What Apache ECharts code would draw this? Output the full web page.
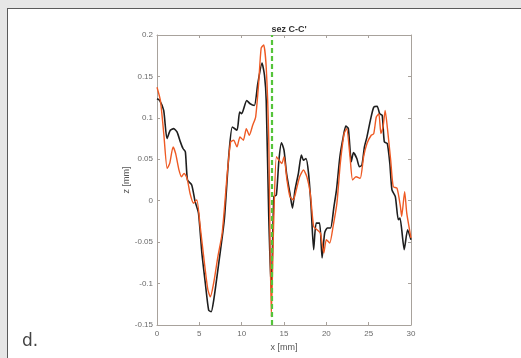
<!DOCTYPE html>
<html><head><meta charset="utf-8">
<script src="https://cdn.jsdelivr.net/npm/echarts@6/dist/echarts.min.js"></script>
<style>
html,body{margin:0;padding:0;background:#e6e6e6;}
#frame{position:absolute;left:7px;top:8px;width:520px;height:360px;background:#fff;border:1px solid #5a5a5a;box-sizing:border-box;}
#c{position:absolute;left:0;top:0;width:521px;height:358px;}
</style></head>
<body>
<div id="frame"></div>
<div id="c"></div>
<script>
const title = "sez C-C'";
const xTicks = [0, 5, 10, 15, 20, 25, 30];
const yTicks = [-0.15, -0.1, -0.05, 0, 0.05, 0.1, 0.15, 0.2];
const sectionX = 13.5;
const blackX = [0,0.31,0.79,1.18,1.57,1.97,2.36,2.76,3.07,3.35,3.6,4.1,4.5,4.9,5.3,5.7,6.1,6.4,6.7,7.3,7.95,8.5,8.9,9.45,9.76,10.0,10.6,11.0,11.5,11.9,12.4,12.7,12.9,13.2,13.5,13.8,14.1,14.4,14.7,15.0,15.3,15.7,16.0,16.3,16.7,17.05,17.3,17.6,17.9,18.2,18.5,18.8,19.2,19.5,19.8,20.1,20.5,20.9,21.2,21.6,22.0,22.3,22.6,22.95,23.2,23.6,23.9,24.2,24.5,24.8,25.2,25.6,26.0,26.3,26.6,26.85,27.2,27.5,27.75,28.15,28.5,28.7,29.2,29.6,30.0];
const blackZ = [0.123,0.121,0.109,0.075,0.085,0.087,0.083,0.071,0.063,0.059,0.025,0.019,-0.001,-0.015,-0.063,-0.099,-0.132,-0.134,-0.12,-0.075,-0.023,0.057,0.089,0.085,0.107,0.105,0.121,0.117,0.115,0.141,0.166,0.151,0.121,-0.019,-0.11,0.005,0.007,0.049,0.07,0.061,0.033,0.009,-0.009,0.013,0.033,0.055,0.049,0.051,0.033,-0.007,-0.059,-0.027,-0.027,-0.069,-0.039,-0.033,-0.033,-0.007,0.013,0.053,0.077,0.09,0.087,0.047,0.058,0.051,0.041,0.043,0.065,0.077,0.097,0.113,0.114,0.105,0.103,0.071,0.069,0.045,0.013,0.005,-0.023,-0.021,-0.059,-0.035,-0.047];
const orangeX = [0,0.4,0.8,1.2,1.5,1.9,2.2,2.6,2.9,3.2,3.55,3.9,4.3,4.7,5.1,5.6,6.0,6.3,6.7,7.2,7.7,8.3,8.7,9.05,9.45,9.8,10.2,10.55,10.9,11.3,11.65,12.0,12.3,12.6,12.9,13.2,13.5,13.8,14.1,14.4,14.75,15.0,15.35,15.7,16.1,16.45,16.85,17.3,17.7,18.1,18.5,18.9,19.3,19.7,20.0,20.4,20.8,21.25,21.65,22.1,22.4,22.8,23.1,23.5,24.0,24.4,24.8,25.3,25.6,25.9,26.2,26.45,26.7,26.95,27.2,27.6,27.9,28.35,28.75,28.9,29.25,29.5,30];
const orangeZ = [0.137,0.121,0.081,0.039,0.045,0.065,0.057,0.037,0.029,0.033,0.027,0.009,-0.003,0.001,-0.031,-0.075,-0.107,-0.116,-0.099,-0.067,-0.039,0.033,0.071,0.073,0.065,0.077,0.073,0.087,0.079,0.091,0.101,0.141,0.184,0.188,0.161,0.073,-0.14,-0.019,0.053,0.049,0.045,0.053,0.025,0.005,0.001,0.013,0.029,0.037,0.029,0.009,-0.031,-0.035,-0.039,-0.063,-0.047,-0.051,-0.031,-0.003,0.045,0.081,0.087,0.053,0.025,0.029,0.027,0.053,0.069,0.079,0.081,0.101,0.105,0.081,0.089,0.109,0.089,0.049,0.017,0.015,-0.007,-0.019,0.011,-0.015,-0.045];

const pairs = (xs, ys) => xs.map((x, i) => [x, ys[i]]);
const fmt = v => String(+v.toFixed(2));
const axisCol = '#a8a29c';
const labCol = '#6a6a6a';
const chart = echarts.init(document.getElementById('c'));
const yMin = yTicks[0], yMax = yTicks[yTicks.length - 1];
const xMin = xTicks[0], xMax = xTicks[xTicks.length - 1];
chart.setOption({
  animation: false,
  backgroundColor: 'transparent',
  title: { text: title, left: 284, top: 20, textAlign: 'center',
    textStyle: { fontSize: 9, fontWeight: 'bold', color: '#333', fontFamily: 'Liberation Sans' } },
  grid: { left: 157, right: 110, top: 35, bottom: 33 },
  xAxis: [
    { type: 'value', min: xMin, max: xMax, interval: 5, position: 'bottom',
      name: 'x [mm]', nameLocation: 'middle', nameGap: 17,
      nameTextStyle: { fontSize: 9, color: '#555', fontFamily: 'Liberation Sans' },
      axisLine: { onZero: false, lineStyle: { color: axisCol, width: 1 } },
      axisTick: { inside: true, length: 3, lineStyle: { color: axisCol } },
      axisLabel: { fontSize: 8, color: labCol, margin: 5, formatter: fmt, fontFamily: 'Liberation Sans' },
      splitLine: { show: false } },
    { type: 'value', min: xMin, max: xMax, interval: 5, position: 'top',
      axisLine: { onZero: false, lineStyle: { color: axisCol } },
      axisTick: { inside: true, length: 3, lineStyle: { color: axisCol } },
      axisLabel: { show: false }, splitLine: { show: false } }
  ],
  yAxis: [
    { type: 'value', min: yMin, max: yMax, interval: 0.05, position: 'left',
      name: 'z [mm]', nameLocation: 'middle', nameGap: 25, nameRotate: 90,
      nameTextStyle: { fontSize: 9, color: '#555', fontFamily: 'Liberation Sans' },
      axisLine: { show: true, onZero: false, lineStyle: { color: axisCol } },
      axisTick: { show: true, inside: true, length: 3, lineStyle: { color: axisCol } },
      axisLabel: { fontSize: 8, color: labCol, margin: 4, formatter: fmt, fontFamily: 'Liberation Sans' },
      splitLine: { show: false } },
    { type: 'value', min: yMin, max: yMax, interval: 0.05, position: 'right',
      axisLine: { show: true, onZero: false, lineStyle: { color: axisCol } },
      axisTick: { show: true, inside: true, length: 3, lineStyle: { color: axisCol } },
      axisLabel: { show: false }, splitLine: { show: false } }
  ],
  series: [
    { type: 'line', data: pairs(blackX, blackZ), smooth: 0.2, showSymbol: false,
      lineStyle: { color: '#1e1e1e', width: 1.6 }, z: 3 },
    { type: 'line', data: pairs(orangeX, orangeZ), smooth: 0.2, showSymbol: false,
      lineStyle: { color: '#ee5a24', width: 1.4 }, z: 4,
      markLine: { silent: true, symbol: 'none', label: { show: false },
        lineStyle: { color: '#55c43a', type: [5, 3], width: 2.2 },
        data: [{ xAxis: sectionX }] } }
  ],
  graphic: [
    { type: 'text', left: 22, top: 333, style: { text: 'd.', fontSize: 17, fill: '#444', fontFamily: 'DejaVu Sans' } }
  ]
});
</script>
</body></html>
